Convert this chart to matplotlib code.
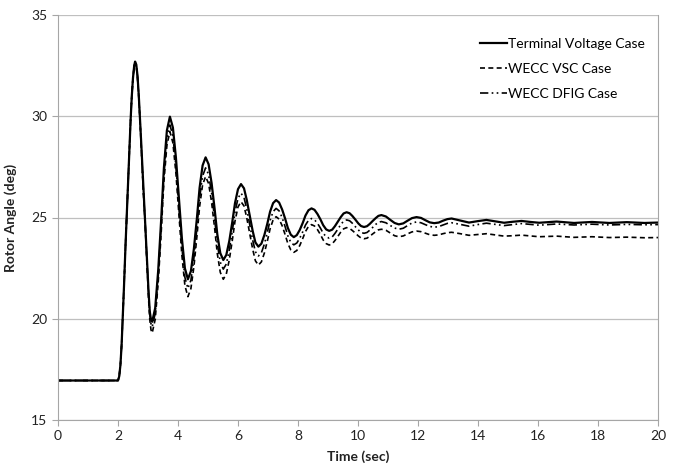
import matplotlib.pyplot as plt

plt.rcParams['font.family'] = ['Lato', 'DejaVu Sans']

# time axis shared by the three runs (sec)
time = [0, 2.0, 2.04, 2.08, 2.12, 2.16, 2.2, 2.25, 2.29, 2.33, 2.37, 2.42, 2.46, 2.5, 2.54, 2.57,
        2.61, 2.65, 2.69, 2.73, 2.77, 2.81, 2.85, 2.9, 2.94, 2.98, 3.02, 3.06, 3.1, 3.14,
        3.24, 3.34, 3.44, 3.53, 3.63, 3.73,
        3.83, 3.93, 4.03, 4.13, 4.23, 4.33,
        4.43, 4.53, 4.63, 4.72, 4.82, 4.92,
        5.02, 5.12, 5.22, 5.31, 5.41, 5.51,
        5.61, 5.71, 5.81, 5.90, 6.00, 6.10,
        6.20, 6.29, 6.39, 6.49, 6.58, 6.68,
        6.78, 6.88, 6.98, 7.07, 7.17, 7.27,
        7.37, 7.47, 7.57, 7.66, 7.76, 7.86,
        7.96, 8.06, 8.16, 8.25, 8.35, 8.45,
        8.55, 8.65, 8.75, 8.84, 8.94, 9.04,
        9.14, 9.23, 9.33, 9.43, 9.52, 9.62,
        9.72, 9.81, 9.91, 10.01, 10.10, 10.20,
        10.30, 10.39, 10.49, 10.59, 10.68, 10.78,
        10.93, 11.07, 11.22, 11.36,
        11.51, 11.65, 11.80, 11.95,
        12.10, 12.24, 12.39, 12.54,
        12.69, 12.83, 12.98, 13.12,
        13.41, 13.70, 13.99, 14.28, 14.57, 14.87, 15.16, 15.45, 15.75, 16.04,
        16.62, 17.20, 17.80, 18.38, 18.96, 19.55, 20.0]

terminal = [16.95, 16.95, 17.15, 17.7, 18.7, 20.1, 21.6, 23.6, 25.0, 26.5, 28.0, 29.8, 31.0, 31.9, 32.5, 32.7,
            32.55, 32.0, 31.1, 30.0, 28.8, 27.6, 26.3, 25.0, 23.8, 22.6, 21.3, 20.35, 19.95, 19.85,
            20.53, 22.38, 24.92, 27.45, 29.30, 29.98,
            29.44, 27.97, 25.97, 23.96, 22.49, 21.95,
            22.35, 23.46, 24.96, 26.47, 27.57, 27.97,
            27.63, 26.70, 25.44, 24.17, 23.24, 22.90,
            23.15, 23.84, 24.78, 25.71, 26.40, 26.65,
            26.44, 25.88, 25.11, 24.33, 23.77, 23.56,
            23.71, 24.14, 24.71, 25.29, 25.71, 25.86,
            25.74, 25.40, 24.95, 24.49, 24.15, 24.03,
            24.13, 24.39, 24.74, 25.10, 25.36, 25.45,
            25.38, 25.17, 24.90, 24.62, 24.41, 24.34,
            24.40, 24.57, 24.80, 25.03, 25.20, 25.26,
            25.21, 25.08, 24.90, 24.71, 24.58, 24.53,
            24.57, 24.68, 24.83, 24.97, 25.08, 25.12,
            25.05, 24.89, 24.73, 24.66,
            24.71, 24.84, 24.97, 25.02,
            24.98, 24.87, 24.76, 24.72,
            24.75, 24.84, 24.92, 24.95,
            24.85, 24.75, 24.82, 24.88, 24.81, 24.74, 24.79, 24.83, 24.78, 24.74,
            24.80, 24.73, 24.78, 24.73, 24.77, 24.73, 24.75]

vsc = [16.95, 16.95, 17.15, 17.7, 18.7, 20.1, 21.6, 23.6, 25.0, 26.5, 28.0, 29.8, 31.0, 31.9, 32.45, 32.62,
       32.45, 31.9, 31.0, 29.9, 28.6, 27.4, 26.1, 24.8, 23.5, 22.2, 20.95, 19.95, 19.45, 19.3,
       19.97, 21.79, 24.27, 26.76, 28.57, 29.24,
       28.69, 27.20, 25.17, 23.13, 21.64, 21.09,
       21.49, 22.57, 24.06, 25.54, 26.62, 27.02,
       26.68, 25.75, 24.49, 23.22, 22.29, 21.95,
       22.21, 22.91, 23.87, 24.82, 25.52, 25.78,
       25.57, 25.00, 24.22, 23.43, 22.86, 22.65,
       22.81, 23.25, 23.85, 24.44, 24.88, 25.04,
       24.92, 24.60, 24.16, 23.72, 23.40, 23.28,
       23.37, 23.62, 23.97, 24.31, 24.56, 24.65,
       24.58, 24.40, 24.15, 23.89, 23.71, 23.64,
       23.70, 23.86, 24.07, 24.29, 24.44, 24.50,
       24.46, 24.36, 24.23, 24.09, 23.99, 23.95,
       23.98, 24.07, 24.19, 24.30, 24.39, 24.42,
       24.37, 24.24, 24.10, 24.05,
       24.09, 24.19, 24.29, 24.33,
       24.30, 24.23, 24.15, 24.12,
       24.14, 24.20, 24.25, 24.27,
       24.20, 24.12, 24.16, 24.20, 24.14, 24.08, 24.10, 24.13, 24.09, 24.05,
       24.08, 24.02, 24.05, 24.01, 24.03, 24.00, 24.01]

dfig = [16.95, 16.95, 17.15, 17.7, 18.7, 20.1, 21.6, 23.6, 25.0, 26.5, 28.0, 29.8, 31.0, 31.9, 32.48, 32.66,
        32.5, 31.95, 31.05, 29.95, 28.7, 27.5, 26.2, 24.9, 23.6, 22.4, 21.2, 20.2, 19.75, 19.6,
        20.27, 22.09, 24.59, 27.08, 28.90, 29.57,
        29.03, 27.55, 25.54, 23.52, 22.04, 21.50,
        21.90, 22.99, 24.48, 25.96, 27.05, 27.45,
        27.12, 26.20, 24.95, 23.70, 22.79, 22.45,
        22.70, 23.39, 24.33, 25.26, 25.95, 26.20,
        25.99, 25.43, 24.65, 23.88, 23.31, 23.10,
        23.26, 23.69, 24.28, 24.86, 25.29, 25.45,
        25.33, 25.00, 24.55, 24.10, 23.77, 23.65,
        23.74, 23.98, 24.30, 24.63, 24.86, 24.95,
        24.89, 24.71, 24.47, 24.22, 24.05, 23.98,
        24.04, 24.21, 24.43, 24.66, 24.82, 24.88,
        24.84, 24.72, 24.55, 24.39, 24.26, 24.22,
        24.26, 24.37, 24.51, 24.66, 24.76, 24.80,
        24.74, 24.61, 24.48, 24.42,
        24.47, 24.60, 24.73, 24.78,
        24.74, 24.65, 24.56, 24.52,
        24.55, 24.63, 24.71, 24.74,
        24.66, 24.57, 24.65, 24.72, 24.66, 24.60, 24.65, 24.70, 24.66, 24.62,
        24.68, 24.63, 24.67, 24.63, 24.66, 24.64, 24.65]

labels = ['Terminal Voltage Case', 'WECC VSC Case', 'WECC DFIG Case']

fig = plt.figure(figsize=(6.73, 4.66), dpi=100)
ax = fig.add_axes([58/673, 1 - 420/466, 600/673, 405/466])

ax.plot(time, terminal, color='black', lw=1.6, label=labels[0])
ax.plot(time, vsc, color='black', lw=1.2, ls=(0, (3, 2)), label=labels[1])
ax.plot(time, dfig, color='black', lw=1.2, ls=(0, (5, 2, 1, 2, 1, 2)), label=labels[2])

ax.set_xlim(0, 20)
ax.set_ylim(15, 35)
ax.set_xticks(range(0, 21, 2))
ax.set_yticks(range(15, 36, 5))
ax.yaxis.grid(True, color='#bfbfbf', lw=0.9)
ax.set_axisbelow(True)

for s in ['left', 'bottom', 'right']:
    ax.spines[s].set_color('#a6a6a6')
ax.spines['top'].set_visible(False)
ax.tick_params(direction='out', length=4, color='#a6a6a6', labelsize=10, labelcolor='#222222')

ax.set_xlabel('Time (sec)', fontsize=10, fontweight='bold', color='#222222', labelpad=6)
ax.set_ylabel('Rotor Angle (deg)', fontsize=10, fontweight='bold', color='#222222', labelpad=10)

ax.legend(loc='upper left', bbox_to_anchor=(0.683, 0.975), frameon=False, fontsize=10,
          handlelength=1.9, handletextpad=0.1, labelspacing=0.95)

fig.savefig('out.png', dpi=100)
